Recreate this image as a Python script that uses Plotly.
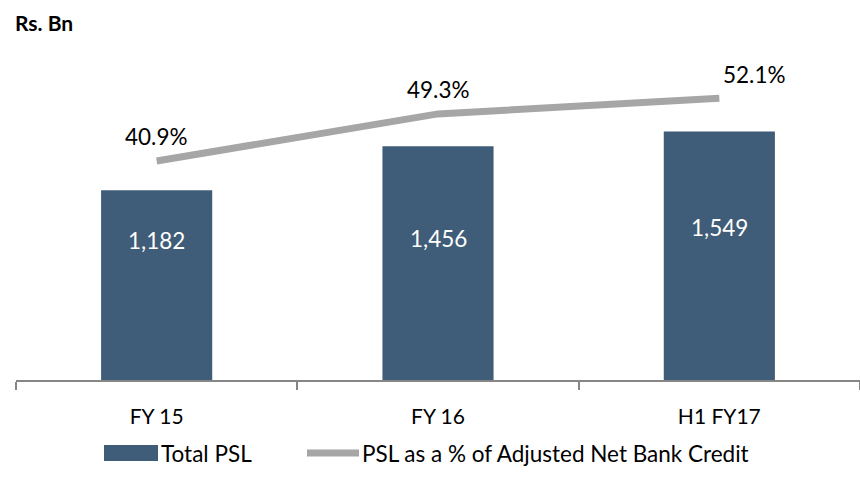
import plotly.graph_objects as go

# Chart data
categories = ["FY 15", "FY 16", "H1 FY17"]
total_psl = [1182, 1456, 1549]            # Rs. Bn
psl_share = [40.9, 49.3, 52.1]            # % of Adjusted Net Bank Credit

BAR_COLOR = "#3f5d78"
LINE_COLOR = "#a6a6a6"
FONT = "Lato, Calibri, sans-serif"
TEXT = "#000000"

# plot-area margins in pixels
W, H = 860, 482
ML, MR, MT, MB = 16, 0, 59, 102

fig = go.Figure()

fig.add_trace(go.Bar(
    x=categories, y=total_psl, name="Total PSL",
    marker=dict(color=BAR_COLOR, line=dict(width=0)),
    width=0.395, yaxis="y", hoverinfo="skip",
))

fig.add_trace(go.Scatter(
    x=categories, y=psl_share, name="PSL as a % of Adjusted Net Bank Credit",
    mode="lines", line=dict(color=LINE_COLOR, width=7),
    yaxis="y2", hoverinfo="skip",
))


def px_x(x):
    return (x - ML) / (W - ML - MR)


def px_y(y):
    return (H - MB - y) / (H - MT - MB)


annotations = []

# value labels inside the bars (vertical placement in bar units)
bar_label_y = [871, 884, 952]
for cat, val, ly in zip(categories, total_psl, bar_label_y):
    annotations.append(dict(
        x=cat, y=ly, xref="x", yref="y", text=f"{val:,}",
        showarrow=False, font=dict(family=FONT, size=22.5, color="#ffffff"),
    ))

# percentage labels above the line
pct_shift = [(0, 24), (0, 24), (35, 24)]
for cat, val, (dx, dy) in zip(categories, psl_share, pct_shift):
    annotations.append(dict(
        x=cat, y=val, xref="x", yref="y2", text=f"{val:.1f}%",
        showarrow=False, xshift=dx, yshift=dy,
        font=dict(family=FONT, size=22.5, color=TEXT),
    ))

# unit caption
annotations.append(dict(
    x=px_x(13), y=px_y(22), xref="paper", yref="paper", text="<b>Rs. Bn</b>",
    showarrow=False, xanchor="left", yanchor="middle",
    font=dict(family=FONT, size=21, color=TEXT),
))

# legend labels
annotations.append(dict(
    x=px_x(159), y=px_y(453), xref="paper", yref="paper",
    text="Total PSL", showarrow=False, xanchor="left", yanchor="middle",
    font=dict(family=FONT, size=22.5, color=TEXT),
))
annotations.append(dict(
    x=px_x(360), y=px_y(453), xref="paper", yref="paper",
    text="PSL as a % of Adjusted Net Bank Credit", showarrow=False,
    xanchor="left", yanchor="middle",
    font=dict(family=FONT, size=22.5, color=TEXT),
))

shapes = [
    # legend swatches
    dict(type="rect", xref="paper", yref="paper",
         x0=px_x(104), x1=px_x(158), y0=px_y(445), y1=px_y(461),
         fillcolor=BAR_COLOR, line=dict(width=0)),
    dict(type="line", xref="paper", yref="paper",
         x0=px_x(307), x1=px_x(359), y0=px_y(453), y1=px_y(453),
         line=dict(color=LINE_COLOR, width=7)),
]

fig.update_layout(
    width=W, height=H,
    margin=dict(l=ML, r=MR, t=MT, b=MB),
    paper_bgcolor="white", plot_bgcolor="white",
    showlegend=False,
    font=dict(family=FONT, size=21, color=TEXT),
    xaxis=dict(
        type="category", range=[-0.5, 2.5],
        showline=True, linecolor="#868686", linewidth=1.5,
        ticks="outside", tickson="boundaries", ticklen=8,
        tickcolor="#868686", tickwidth=1.5,
        ticklabelstandoff=17,
        tickfont=dict(family=FONT, size=21, color=TEXT),
        showgrid=False, zeroline=False,
    ),
    yaxis=dict(range=[0, 2000], visible=False, showgrid=False, zeroline=False),
    yaxis2=dict(range=[1.8, 59.1], overlaying="y", side="right",
                visible=False, showgrid=False, zeroline=False),
    annotations=annotations,
    shapes=shapes,
)

fig.write_html("out.html")
